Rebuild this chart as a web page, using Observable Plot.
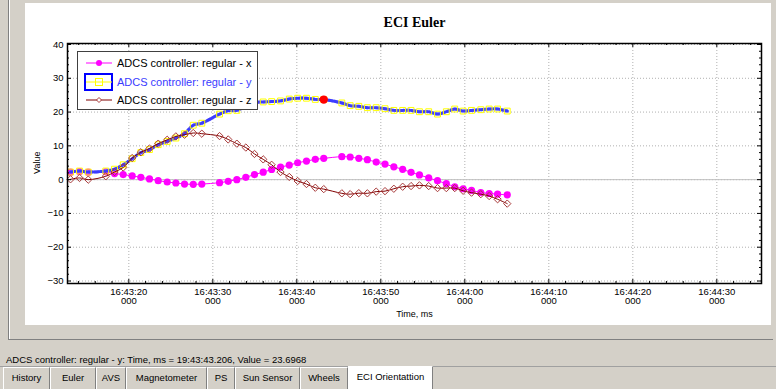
<!DOCTYPE html>
<html><head><meta charset="utf-8">
<script src="https://cdn.jsdelivr.net/npm/d3@7"></script>
<script src="https://cdn.jsdelivr.net/npm/@observablehq/plot@0.6"></script>
<style>
html,body{margin:0;padding:0;}
body{width:776px;height:389px;overflow:hidden;position:relative;background:#d4d0c8;font-family:"Liberation Sans",Arial,sans-serif;}
#outer{position:absolute;left:8px;top:-2px;width:765px;height:342px;box-sizing:border-box;border-left:1px solid #808080;border-bottom:1px solid #808080;box-shadow:inset 1px 0 0 #fff;}
#panel{position:absolute;left:25px;top:3px;width:746px;height:322px;background:#fff;}
#chart{position:absolute;left:0;top:0;}
#legend{position:absolute;left:77px;top:51px;width:181px;height:59px;box-sizing:border-box;border:1px solid #404040;background:#fff;}
.row{position:absolute;left:0;height:18px;display:flex;align-items:center;}
.row svg{position:absolute;left:6px;top:0;}
.row span{position:absolute;left:39px;font-size:11px;white-space:nowrap;line-height:18px;top:0;}
#status{position:absolute;left:6px;top:354px;font-size:9.5px;white-space:nowrap;color:#000;}
#tabline{position:absolute;left:0;top:366px;width:776px;height:1px;background:#a0a0a0;}
.tab{position:absolute;top:367px;height:22px;box-sizing:border-box;border-left:1px solid #fff;border-top:1px solid #fff;border-right:1px solid #808080;font-size:9.5px;text-align:center;line-height:20px;color:#000;}
.tab.sel{background:#fff;top:366px;height:23px;}
</style></head><body>
<div id="outer"></div>
<div id="panel"></div>
<div id="chart"></div>
<div id="legend"></div>
<div id="status"></div>
<div id="tabline"></div>
<div id="tabs"></div>
<script>
// ---- data ----
const chartTitle = "ECI Euler";
const xAxisTitle = "Time, ms";
const yAxisTitle = "Value";
const seriesNames = ["ADCS controller: regular - x", "ADCS controller: regular - y", "ADCS controller: regular - z"];
const sampleTimes = ["16:43:13.060","16:43:14.130","16:43:15.170","16:43:17.260","16:43:18.300","16:43:19.330","16:43:20.400","16:43:21.430","16:43:22.460","16:43:23.500","16:43:24.570","16:43:25.600","16:43:26.630","16:43:27.670","16:43:28.690","16:43:30.800","16:43:31.830","16:43:32.860","16:43:33.930","16:43:34.960","16:43:36.000","16:43:37.000","16:43:38.060","16:43:39.100","16:43:40.100","16:43:41.150","16:43:42.200","16:43:43.206","16:43:45.360","16:43:46.350","16:43:47.380","16:43:48.400","16:43:49.450","16:43:50.500","16:43:51.550","16:43:52.600","16:43:53.600","16:43:54.600","16:43:55.700","16:43:56.750","16:43:57.800","16:43:58.800","16:43:59.800","16:44:00.800","16:44:01.900","16:44:02.900","16:44:03.900","16:44:05.050"];
const valuesX = [2.2,2.4,2.2,2.3,1.8,1.5,1.1,0.7,0.2,-0.3,-0.7,-1.0,-1.3,-1.4,-1.3,-0.9,-0.5,0.0,0.7,1.5,2.2,3.0,3.7,4.3,5.0,5.5,6.0,6.3,6.8,6.7,6.3,5.9,5.2,4.6,3.8,3.05,2.16,1.4,0.5,-0.3,-1.2,-2.1,-2.7,-3.2,-3.8,-4.1,-4.3,-4.5];
const valuesY = [2.25,2.55,2.25,2.55,3.1,4.4,6.2,8.0,8.9,10.35,11.3,12.3,13.6,16.1,16.7,19.4,20.4,20.5,21.7,22.8,23.0,23.1,23.3,23.85,24.1,24.1,23.75,23.6968,22.7,21.9,21.7,21.3,21.3,21.0,20.5,20.5,20.5,20.1,20.1,19.4,20.1,20.9,20.3,20.5,20.7,20.9,20.9,20.3];
const valuesZ = [0.1,0.5,0.0,1.0,2.25,3.6,6.4,8.1,9.2,10.65,11.8,12.8,13.3,13.8,13.6,12.9,11.9,10.65,9.5,7.6,6.0,4.4,2.25,0.8,-0.4,-1.3,-2.4,-2.8,-4.05,-4.3,-4.0,-4.05,-3.55,-3.4,-2.7,-2.1,-1.9,-1.7,-1.9,-2.5,-2.5,-2.5,-3.3,-3.85,-4.3,-4.85,-5.8,-7.1];
const selectedTime = "16:43:43.206";
const selectedValue = 23.6968;
const xTickLabels = ["16:43:20","16:43:30","16:43:40","16:43:50","16:44:00","16:44:10","16:44:20","16:44:30"];
const xMinorTickLabels = ["16:43:14","16:43:16","16:43:18","16:43:22","16:43:24","16:43:26","16:43:28","16:43:32","16:43:34","16:43:36","16:43:38","16:43:42","16:43:44","16:43:46","16:43:48","16:43:52","16:43:54","16:43:56","16:43:58","16:44:02","16:44:04","16:44:06","16:44:08","16:44:12","16:44:14","16:44:16","16:44:18","16:44:22","16:44:24","16:44:26","16:44:28","16:44:32","16:44:34"];
const yTickValues = [-30,-20,-10,0,10,20,30,40];
const yMinorTickValues = [-28,-26,-24,-22,-18,-16,-14,-12,-8,-6,-4,-2,2,4,6,8,12,14,16,18,22,24,26,28,32,34,36,38];
const xDomainLabels = ["16:43:12.700","16:44:35.320"];
const yDomain = [-30, 40];
const statusText = "ADCS controller: regular - y: Time, ms = 19:43:43.206, Value = 23.6968";
const tabNames = ["History","Euler","AVS","Magnetometer","PS","Sun Sensor","Wheels","ECI Orientattion"];

// ---- layout ----
const W = 776, H = 330, mL = 67, mR = 15, mT = 44, mB = 49.5;
const parseMs = d3.utcParse("%H:%M:%S.%L");
const parseS = d3.utcParse("%H:%M:%S");
const fmt = d3.utcFormat("%H:%M:%S");
const xDomain = xDomainLabels.map(parseMs);
const xMajor = xTickLabels.map(parseS);
const xMinor = xMinorTickLabels.map(parseS);
const ppy = (H - mT - mB) / (yDomain[1] - yDomain[0]);
const ppx = (W - mL - mR) / (xDomain[1] - xDomain[0]); // px per ms
const yBot = yDomain[0] - 2.5 / ppy, yTop = yDomain[1] + 1 / ppy;
const xL = xDomain[0], xR = xDomain[1];
const xShift = (d, px) => new Date(d.getTime() + px / ppx);

const mk = (vals) => sampleTimes.map((t, i) => ({t: parseMs(t), v: vals[i]}));
const dX = mk(valuesX), dY = mk(valuesY), dZ = mk(valuesZ);
const sel = [{t: parseMs(selectedTime), v: selectedValue}];

const tickStroke = "#000";
const plot = Plot.plot({
  width: W, height: H,
  marginLeft: mL, marginRight: mR, marginTop: mT, marginBottom: mB,
  style: {background: "transparent", fontFamily: "Liberation Sans, Arial, sans-serif", fontSize: "9.5px", color: "#000"},
  x: {type: "utc", domain: xDomain},
  y: {domain: yDomain},
  marks: [
    Plot.gridX(xMajor, {stroke: "#b0b0b0", strokeOpacity: 1, strokeDasharray: "1,2"}),
    Plot.gridY(yTickValues, {stroke: "#b0b0b0", strokeOpacity: 1, strokeDasharray: "1,2"}),
    Plot.ruleY([0], {stroke: "#c0c0c0", strokeWidth: 1}),
    // series x
    Plot.line(dX, {x: "t", y: "v", stroke: "#ff00ff", strokeWidth: 1, curve: "catmull-rom"}),
    Plot.dot(dX, {x: "t", y: "v", r: 3.6, fill: "#ff00ff", stroke: "none"}),
    // series y (selected)
    Plot.line(dY, {x: "t", y: "v", stroke: "#9a9aff", strokeWidth: 3, curve: "catmull-rom"}),
    Plot.line(dY, {x: "t", y: "v", stroke: "#3c3cff", strokeWidth: 3, strokeDasharray: "4,2", curve: "catmull-rom"}),
    Plot.dot(dY, {x: "t", y: "v", symbol: "square", r: 3.3, fill: "none", stroke: "#ffff00", strokeWidth: 1}),
    // series z
    Plot.line(dZ, {x: "t", y: "v", stroke: "#800000", strokeWidth: 1, curve: "catmull-rom"}),
    Plot.dot(dZ, {x: "t", y: "v", symbol: "diamond2", r: 3.3, fill: "none", stroke: "#a83a3a", strokeWidth: 1}),
    Plot.dot(sel, {x: "t", y: "v", r: 4.2, fill: "#ff0000", stroke: "none"}),
    // frame
    Plot.frame({stroke: "#000", strokeWidth: 1.5, insetTop: -1, insetBottom: -2.5}),
    // ticks bottom/top
    Plot.ruleX(xMajor, {x: d => d, y1: yBot, y2: yBot + 4 / ppy, stroke: tickStroke}),
    Plot.ruleX(xMinor, {x: d => d, y1: yBot, y2: yBot + 2 / ppy, stroke: tickStroke}),
    Plot.ruleX(xMajor, {x: d => d, y1: yTop, y2: yTop - 4 / ppy, stroke: tickStroke}),
    Plot.ruleX(xMinor, {x: d => d, y1: yTop, y2: yTop - 2 / ppy, stroke: tickStroke}),
    // ticks left/right
    Plot.ruleY(yTickValues, {y: d => d, x1: xL, x2: xShift(xL, 4), stroke: tickStroke}),
    Plot.ruleY(yMinorTickValues, {y: d => d, x1: xL, x2: xShift(xL, 2), stroke: tickStroke}),
    Plot.ruleY(yTickValues, {y: d => d, x1: xR, x2: xShift(xR, -4), stroke: tickStroke}),
    Plot.ruleY(yMinorTickValues, {y: d => d, x1: xR, x2: xShift(xR, -2), stroke: tickStroke}),
    // axes labels
    Plot.axisX(xMajor, {tickSize: 0, tickPadding: 7, tickFormat: d => fmt(d) + "\n000", label: null, fill: "#000"}),
    Plot.axisY(yTickValues, {tickSize: 0, tickPadding: 4, label: null, fill: "#000"}),
    Plot.text([yAxisTitle], {frameAnchor: "left", dx: -30, rotate: -90, textAnchor: "middle", fontSize: 9, fill: "#000"}),
    Plot.text([xAxisTitle], {frameAnchor: "bottom", dy: 35.5, textAnchor: "middle", fontSize: 9, fill: "#000"}),
    Plot.text([chartTitle], {frameAnchor: "top", dy: -27, textAnchor: "middle", fontSize: 14, fontWeight: "bold", fontFamily: "Liberation Serif, serif", fill: "#000"})
  ]
});
document.getElementById("chart").appendChild(plot);

// ---- legend ----
const legend = document.getElementById("legend");
const legendStyles = [
  {line: "#ff00ff", marker: "circle", mfill: "#ff00ff", mstroke: "#ff00ff", text: "#000"},
  {line: "#ffff00", marker: "square", mfill: "none", mstroke: "#ffff00", text: "#3a3aff", box: "#0000ff"},
  {line: "#800000", marker: "diamond", mfill: "none", mstroke: "#a83a3a", text: "#000"}
];
seriesNames.forEach((name, i) => {
  const s = legendStyles[i];
  const row = document.createElement("div");
  row.className = "row";
  row.style.top = (2 + i * 18.5) + "px";
  row.style.width = "179px";
  let marker = "";
  if (s.marker === "circle") marker = `<circle cx="15" cy="9" r="3" fill="${s.mfill}"/>`;
  if (s.marker === "square") marker = `<rect x="11.5" y="5.5" width="7" height="7" fill="none" stroke="${s.mstroke}"/>`;
  if (s.marker === "diamond") marker = `<path d="M15,6.5L17.5,9L15,11.5L12.5,9Z" fill="white" stroke="${s.mstroke}"/>`;
  const box = s.box ? `<rect x="1" y="1" width="27" height="16" fill="none" stroke="${s.box}" stroke-width="2"/>` : "";
  row.innerHTML = `<svg width="30" height="18">${box}<line x1="2" y1="9" x2="28" y2="9" stroke="${s.line}" stroke-width="1"/>${marker}</svg><span style="color:${s.text}">${name}</span>`;
  legend.appendChild(row);
});

document.getElementById("status").textContent = statusText;
const tabEdges = [3, 50, 96, 126, 207, 235, 300, 348, 433];
const tabs = document.getElementById("tabs");
tabNames.forEach((n, i) => {
  const d = document.createElement("div");
  d.className = "tab" + (i === tabNames.length - 1 ? " sel" : "");
  d.style.left = tabEdges[i] + "px";
  d.style.width = (tabEdges[i + 1] - tabEdges[i]) + "px";
  d.textContent = n;
  tabs.appendChild(d);
});
</script>
</body></html>
